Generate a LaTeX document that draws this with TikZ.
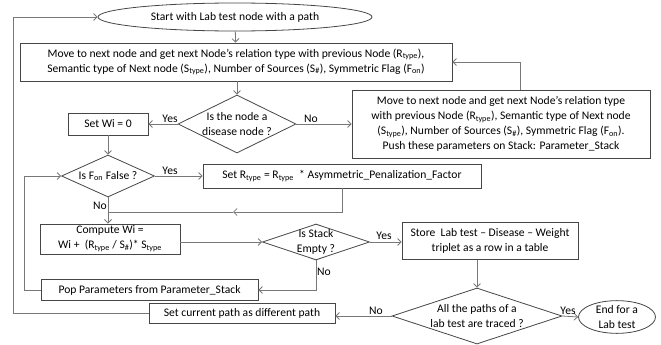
\documentclass[tikz,border=0pt]{standalone}
\usepackage{fontspec}
\setmainfont{Carlito}
\usepackage{tikz}
\usetikzlibrary{shapes.geometric,arrows.meta}
\usepackage{xcolor}
\definecolor{boxline}{RGB}{70,70,70}
\definecolor{flowline}{RGB}{120,120,120}
\newcommand{\Rt}{R\textsubscript{type}}
\newcommand{\St}{S\textsubscript{type}}
\newcommand{\Sn}{S\textsubscript{\#}}
\newcommand{\Fo}{F\textsubscript{on}}

\tikzset{
  box/.style={draw=boxline, line width=0.8pt, rectangle, align=center, inner sep=2pt},
  decision/.style={draw=boxline, line width=0.8pt, diamond, align=center, inner sep=-5pt},
  terminal/.style={draw=boxline, line width=0.8pt, ellipse, align=center, inner sep=0pt},
  flow/.style={draw=flowline, line width=0.8pt, -{Straight Barb[length=3.5pt,width=7pt]}},
  plain/.style={draw=flowline, line width=0.8pt},
  answer/.style={inner sep=1pt}
}

\begin{document}
\begin{tikzpicture}[x=1pt, y=-1pt, font=\fontsize{11.6}{15}\selectfont]
\useasboundingbox (0,0) rectangle (661,345);

% Start and first step
\node[terminal, minimum width=274, minimum height=28] (start) at (235,17) {Start with Lab test node with a path};
\node[box, minimum width=432, minimum height=38] (move) at (236,62) {Move to next node and get next Node’s relation type with previous Node (\Rt),\\Semantic type of Next node (\St), Number of Sources (\Sn), Symmetric Flag (\Fo)};

% Disease check
\node[decision, shape aspect=2, minimum width=118, minimum height=58] (dis) at (237,124) {Is the node a\\disease node ?};
\node[box, minimum width=80, minimum height=22] (setwi) at (108,124) {Set Wi = 0};
\node[box, minimum width=298, minimum height=68] (push) at (501,124) {Move to next node and get next Node’s relation type\\with previous Node (\Rt), Semantic type of Next node\\(\St), Number of Sources (\Sn), Symmetric Flag (\Fo).\\Push these parameters on Stack: Parameter\_Stack};

% Flag check
\node[decision, shape aspect=2.2, minimum width=93, minimum height=42] (flag) at (108,176) {Is \Fo\ False ?};
\node[box, minimum width=278, minimum height=24] (setr) at (342,176) {Set \Rt\ = \Rt\ \ * Asymmetric\_Penalization\_Factor};

% Weight and stack
\node[box, minimum width=140, minimum height=29] (comp) at (110,239) {Compute Wi =\\Wi +\ \ (\Rt\ / \Sn)* \St};
\node[decision, shape aspect=3, minimum width=107, minimum height=36] (stack) at (316,242) {Is Stack\\Empty ?};
\node[box, minimum width=176, minimum height=37] (store) at (490,241) {Store\ \ Lab test – Disease – Weight\\triplet as a row in a table};
\node[box, minimum width=217, minimum height=21] (pop) at (149.5,290) {Pop Parameters from Parameter\_Stack};

% Paths check and end
\node[decision, shape aspect=3, minimum width=170, minimum height=56] (paths) at (477,316) {All the paths of a\\lab test are traced ?};
\node[box, minimum width=186, minimum height=20] (setcur) at (242,313) {Set current path as different path};
\node[terminal, minimum width=77, minimum height=30] (end) at (617,317) {End for a\\Lab test};

\coordinate (merge) at (108,212);
\coordinate (mergetip) at (233,212);

% Connectors
\draw[flow] (start) -- (move);
\draw[flow] (move.south -| dis.north) -- (dis.north);
\draw[flow] (dis.west) -- (setwi.east);
\draw[flow] (dis.east) -- (dis.east -| push.west);
\draw[flow] (push.north -| 520,0) |- (move.east);
\draw[flow] (setwi) -- (flag);
\draw[flow] (flag.east) -- (flag.east -| setr.west);
\draw[flow] (setr.south) |- (mergetip);
\draw[plain] (mergetip) -- (merge);
\draw[flow] (flag.south) -- (flag.south |- comp.north);
\draw[flow] (comp.east |- stack.west) -- (stack.west);
\draw[flow] (stack.east) -- (stack.east -| store.west);
\draw[flow] (stack.south) |- (pop.east);
\draw[flow] (pop.west) -- ++(-16,0) |- (flag.west);
\draw[flow] (store.south -| paths.north) -- (paths.north);
\draw[flow] (paths.west) -- (paths.west -| setcur.east);
\draw[flow] (paths.east) -- (end.west);
\draw[flow] (setcur.west) -- (13,313) |- (start.west);

% Yes / No labels
\node[answer, above] (y1) at (170,124) {Yes};
\node[answer, above] (n1) at (311,124) {No};
\node[answer, above] (y2) at (170,176) {Yes};
\node[answer, left] (n2) at (108,206) {No};
\node[answer, above] (y3) at (384,241) {Yes};
\node[answer, right] (n3) at (316,272) {No};
\node[answer, above] (n4) at (376,316) {No};
\node[answer, above] (y4) at (568,316) {Yes};
\end{tikzpicture}
\end{document}
